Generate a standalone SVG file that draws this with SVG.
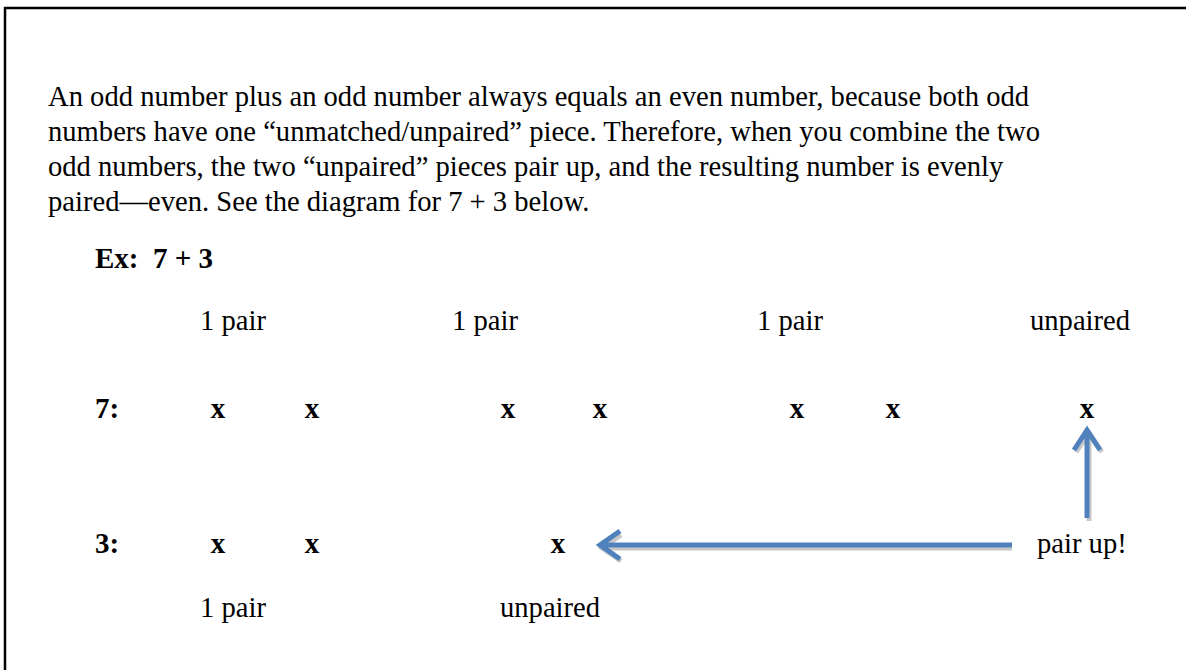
<svg xmlns="http://www.w3.org/2000/svg" width="1186" height="670" viewBox="0 0 1186 670">
<style>
.t{font-family:"Liberation Serif","Times New Roman",serif;font-size:28.6px;fill:#000}
.b{font-family:"Liberation Serif","Times New Roman",serif;font-size:29px;font-weight:bold;fill:#000}
.ar{fill:none;stroke:#4F81BD;stroke-width:5;stroke-linecap:butt}
.sh{fill:none;stroke:#C8C8C8;stroke-width:5}
</style>
<rect x="5" y="8" width="1200" height="700" fill="#fff" stroke="#000" stroke-width="2.5"/>
<g id="paragraph">
<text class="t" x="48" y="106">An odd number plus an odd number always equals an even number, because both odd</text>
<text class="t" x="48" y="141">numbers have one “unmatched/unpaired” piece. Therefore, when you combine the two</text>
<text class="t" x="48" y="176">odd numbers, the two “unpaired” pieces pair up, and the resulting number is evenly</text>
<text class="t" x="48" y="211">paired—even. See the diagram for 7 + 3 below.</text>
</g>
<g id="example"><text class="b" x="95" y="268" xml:space="preserve">Ex:  7 + 3</text></g>
<g id="labels-top">
<text class="t" x="200" y="330">1 pair</text>
<text class="t" x="452" y="330">1 pair</text>
<text class="t" x="757" y="330">1 pair</text>
<text class="t" x="1030" y="330">unpaired</text>
</g>
<g id="row7">
<text class="b" x="95" y="418">7:</text>
<text class="b" x="218" y="418" text-anchor="middle">x</text>
<text class="b" x="312" y="418" text-anchor="middle">x</text>
<text class="b" x="508" y="418" text-anchor="middle">x</text>
<text class="b" x="600" y="418" text-anchor="middle">x</text>
<text class="b" x="797" y="418" text-anchor="middle">x</text>
<text class="b" x="893" y="418" text-anchor="middle">x</text>
<text class="b" x="1087" y="418" text-anchor="middle">x</text>
</g>
<g id="row3">
<text class="b" x="95" y="553">3:</text>
<text class="b" x="218" y="553" text-anchor="middle">x</text>
<text class="b" x="312" y="553" text-anchor="middle">x</text>
<text class="b" x="558" y="553" text-anchor="middle">x</text>
<text class="t" x="1037" y="553">pair up!</text>
</g>
<g id="labels-bottom">
<text class="t" x="200" y="617">1 pair</text>
<text class="t" x="500" y="617">unpaired</text>
</g>
<g id="connectors">
<path class="sh" d="M1012 548 H602 M621 535 L602 548 L621 561"/>
<path class="ar" d="M1012 545 H600 M620 531 L600 545 L620 559"/>
<path class="sh" d="M1089 521 V433 M1076 452 L1089 433 L1102 452"/>
<path class="ar" d="M1087 518 V430 M1074 450 L1087 430 L1100 450"/>
</g>
</svg>
